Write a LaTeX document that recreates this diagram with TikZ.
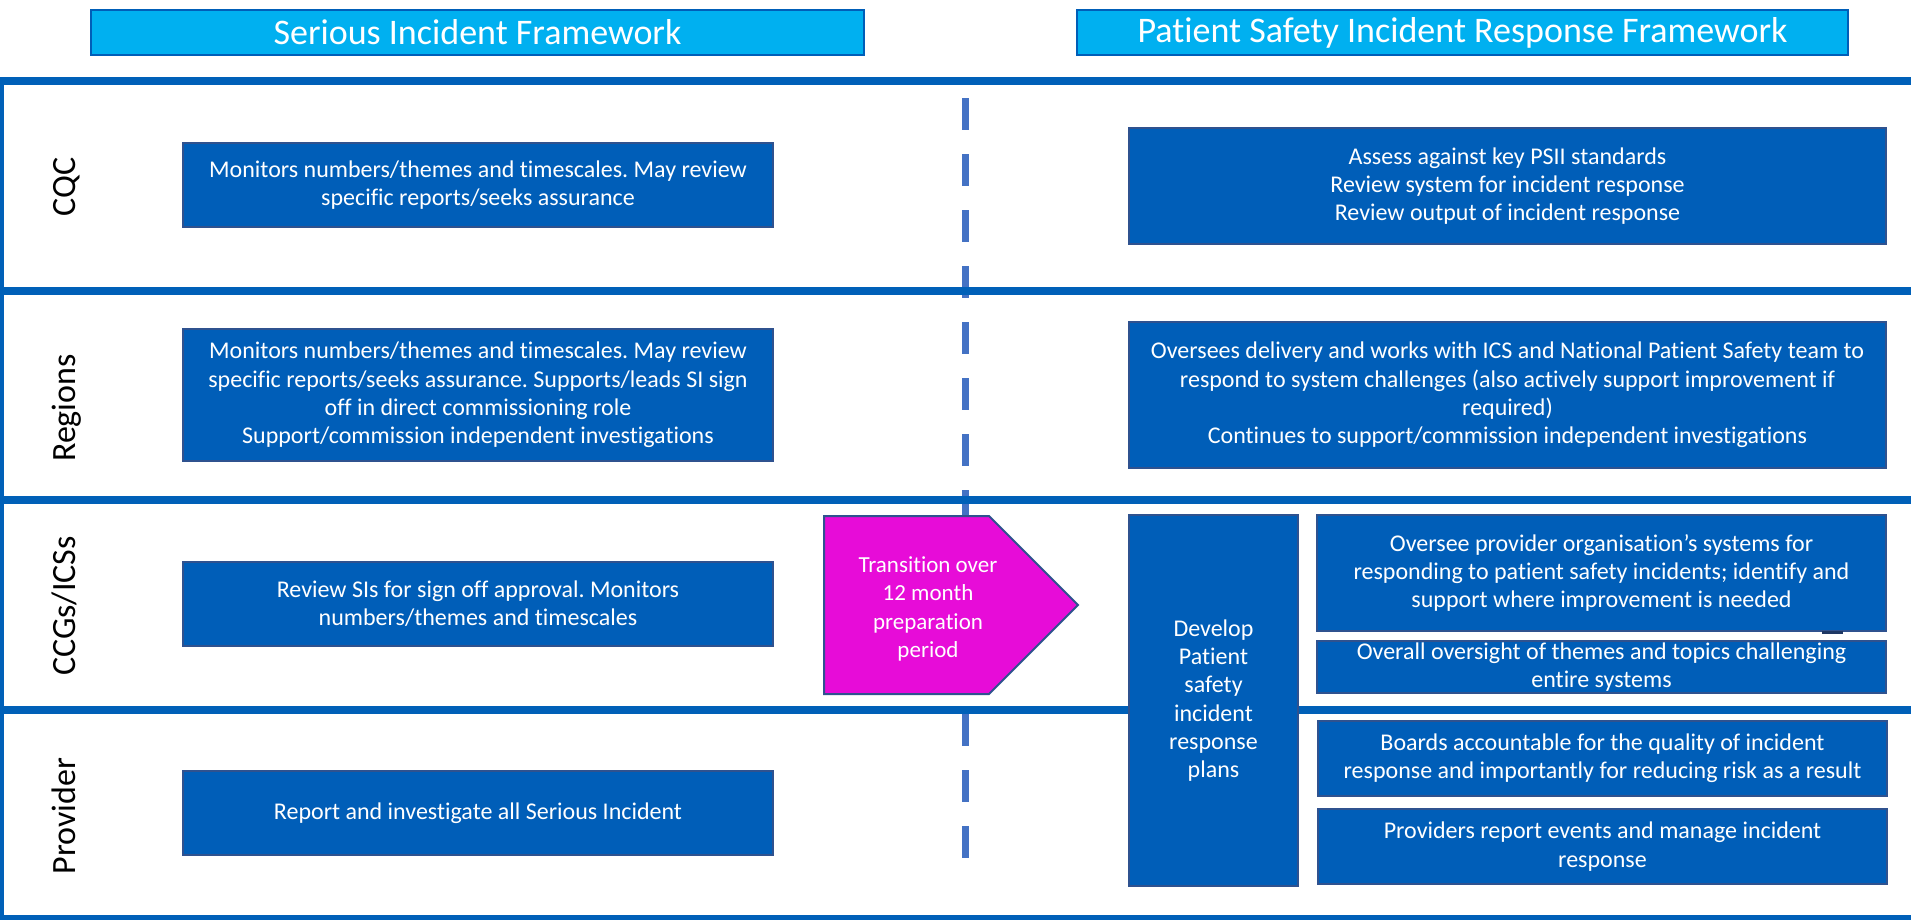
\documentclass[tikz,border=0pt]{standalone}
\usepackage{fontspec}
\setmainfont{Carlito}[Ligatures=NoCommon]
\frenchspacing
\definecolor{boxblue}{RGB}{0,94,184}
\definecolor{boxedge}{RGB}{47,82,143}
\definecolor{lanecol}{RGB}{0,96,184}
\definecolor{headfill}{RGB}{0,176,240}
\definecolor{dashcol}{RGB}{68,114,196}
\definecolor{transfill}{RGB}{231,12,216}
\definecolor{marknavy}{RGB}{31,56,100}
\begin{document}
\begin{tikzpicture}[x=1pt,y=-1pt,
  blk/.style={fill=boxblue, draw=boxedge, line width=2pt, text=white,
    inner sep=0pt, align=center, font=\fontsize{24}{28.3}\selectfont},
  headbox/.style={fill=headfill, draw=boxblue, line width=2.5pt, text=white,
    inner sep=0pt, font=\fontsize{36}{40}\selectfont},
  lanelabel/.style={rotate=90, anchor=base, inner sep=0pt,
    font=\fontsize{34}{40}\selectfont},
  laneline/.style={draw=lanecol, line width=8pt},
  dashline/.style={draw=dashcol, line width=7pt, dash pattern=on 32pt off 24pt}]
\useasboundingbox (0,0) rectangle (1911,919);
\fill[white] (0,0) rectangle (1911,919);

% column headings
\node[headbox, minimum width=773pt, minimum height=45pt] (hsif) at (477.5,32.5) {Serious Incident Framework};
\node[headbox, minimum width=771pt, minimum height=45pt] (hpsirf) at (1462.5,32.5) {Patient Safety Incident Response Framework};

% dashed divider between the two frameworks
\coordinate (dtop) at (965,98);
\coordinate (dbot) at (965,858);
\draw[dashline] (dtop) -- (dbot);

% swim lanes
\draw[laneline] (-10,81) -- (1920,81);
\draw[laneline] (-10,291) -- (1920,291);
\draw[laneline] (-10,500) -- (1920,500);
\draw[laneline] (-10,709.5) -- (1920,709.5);
\draw[laneline] (-10,919) -- (1920,919);
\draw[laneline] (0,77) -- (0,923);

% lane labels
\node[lanelabel] (lcqc) at (75,187) {CQC};
\node[lanelabel] (lreg) at (75,408) {Regions};
\node[lanelabel] (lccg) at (75,606) {CCGs/ICSs};
\node[lanelabel] (lprov) at (75,816) {Provider};

% Serious Incident Framework column
\node[blk, minimum width=590pt, minimum height=84pt] (cqcL) at (478,185)
  {Monitors numbers/themes and timescales. May review\\specific reports/seeks assurance};
\node[blk, minimum width=590pt, minimum height=132pt] (regL) at (478,395)
  {Monitors numbers/themes and timescales. May review\\specific reports/seeks assurance. Supports/leads SI sign\\off in direct commissioning role\\Support/commission independent investigations};
\node[blk, minimum width=590pt, minimum height=84pt] (ccgL) at (478,604)
  {Review SIs for sign off approval. Monitors\\numbers/themes and timescales};
\node[blk, minimum width=590pt, minimum height=84pt] (provL) at (478,813)
  {Report and investigate all Serious Incident};

% transition arrow
\fill[transfill, draw=boxedge, line width=2pt]
  (824,516) -- (989,516) -- (1078,605) -- (989,694) -- (824,694) -- cycle;
\node[text=white, align=center, inner sep=0pt, font=\fontsize{23}{28.6}\selectfont] (trans) at (928,609)
  {Transition over\\12 month\\preparation\\period};

% Patient Safety Incident Response Framework column
\node[blk, minimum width=757pt, minimum height=116pt] (cqcR) at (1507.5,186)
  {Assess against key PSII standards\\Review system for incident response\\Review output of incident response};
\node[blk, minimum width=757pt, minimum height=146pt] (regR) at (1507.5,395)
  {Oversees delivery and works with ICS and National Patient Safety team to\\respond to system challenges (also actively support improvement if\\required)\\Continues to support/commission independent investigations};
\node[blk, minimum width=169pt, minimum height=371pt] (dev) at (1213.5,700.5)
  {Develop\\Patient\\safety\\incident\\response\\plans};
\node[blk, minimum width=569pt, minimum height=116pt] (oversee) at (1601.5,573)
  {Oversee provider organisation’s systems for\\responding to patient safety incidents; identify and\\support where improvement is needed};
\node[blk, minimum width=569pt, minimum height=52pt] (overall) at (1601.5,667)
  {Overall oversight of themes and topics challenging\\entire systems};
\node[blk, minimum width=569pt, minimum height=75pt] (boards) at (1602.5,758.5)
  {Boards accountable for the quality of incident\\response and importantly for reducing risk as a result};
\node[blk, minimum width=569pt, minimum height=75pt] (provs) at (1602.5,846.5)
  {Providers report events and manage incident\\response};

% small mark under the oversight box
\fill[marknavy] (1822,631) rectangle (1843,633.5);
\end{tikzpicture}
\end{document}
